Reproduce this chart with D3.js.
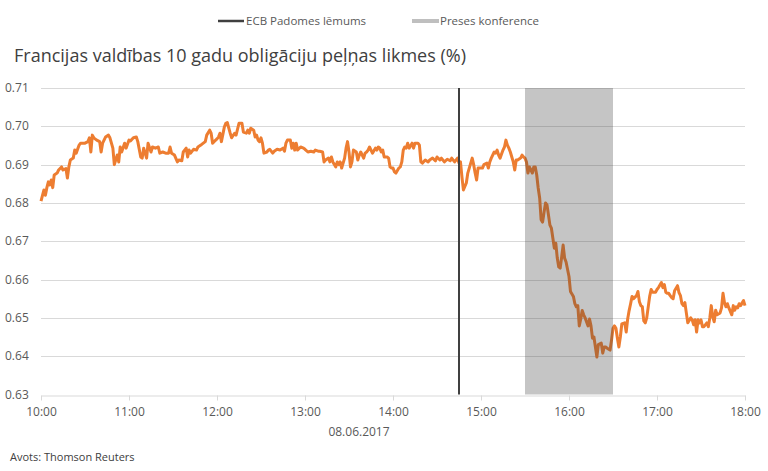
<!DOCTYPE html>
<html>
<head>
<meta charset="utf-8">
<script src="https://cdn.jsdelivr.net/npm/d3@7"></script>
<style>
  body { margin: 0; background: #fff; }
  svg { display: block; font-family: "Open Sans", sans-serif; }
</style>
</head>
<body>
<svg width="768" height="471"></svg>
<script>
// minutes after 10:00 on 08.06.2017
var mins = [0,2,3,4,5,6,7,8,9,11,12,14,15,17,18,19,20,22,23,24,26,27,30,32,33,34,35,36,38,40,41,42,44,46,47,49,50,52,53,54,55,57,58,60,61,63,65,66,68,69,70,72,
  73,75,76,78,80,81,83,85,87,88,89,91,93,94,96,97,99,100,101,102,104,106,107,109,110,112,113,115,116,117,118,120,121,122,123,125,126,127,129,130,132,133,135,137,138,
  140,141,142,143,145,146,147,148,149,150,151,152,154,155,156,158,159,161,163,165,166,167,168,170,171,172,173,174,175,177,179,180,182,184,186,187,189,190,192,193,194,196,197,198,199,201,202,203,204,205,207,208,209,210,211,212,213,
  215,216,217,218,220,221,222,223,224,225,226,228,229,230,231,232,233,234,236,237,238,239,240,241,242,244,245,246,247,248,249,250,251,253,254,255,256,257,258,259,260,262,264,265,267,269,270,272,273,275,277,279,280,282,284,285,
  286,287,288,290,291,292,293,294,295,296,297,298,300,301,302,304,305,306,307,309,310,311,312,313,315,316,317,318,319,320,321,322,323,324,325,327,328,329,330,331,332,333,335,336,337,338,339,340,341,342,343,344,345,347,348,349,350,351,352,353,354,355,356,357,358,
  360,361,363,364,365,366,367,368,369,370,371,373,374,375,376,377,378,379,380,382,383,384,385,386,388,389,390,391,392,393,394,395,396,398,399,400,401,402,403,404,406,407,408,409,410,411,412,413,415,416,417,418,419,420,421,423,424,425,426,
  427,428,429,430,431,432,434,435,436,437,438,439,440,441,443,444,445,446,447,448,449,450,451,452,454,455,456,457,458,459,460,461,463,464,465,466,467,468,469,471,472,473,474,475,476,477,479,480];

var yields = [0.6805,0.6834,0.682,0.684,0.6855,0.6847,0.686,0.684,0.6873,0.6878,0.6886,0.6894,0.6886,0.689,0.6865,0.6894,0.6912,0.6917,0.6938,0.693,0.6951,0.6956,0.6956,0.696,0.697,0.6933,0.6977,0.697,0.6964,0.696,0.6933,0.6956,0.6972,0.6977,0.697,0.6943,0.690,0.6925,0.6907,0.6946,0.6933,0.6956,0.6943,0.6964,0.6962,0.697,0.6972,0.696,0.692,0.6917,0.6943,0.6917,
  0.6956,0.6933,0.6946,0.6943,0.6946,0.693,0.6933,0.693,0.693,0.6946,0.693,0.6925,0.6907,0.6912,0.691,0.6933,0.6943,0.692,0.6938,0.693,0.694,0.6938,0.6946,0.6951,0.6954,0.696,0.6977,0.699,0.6982,0.6956,0.696,0.6967,0.6972,0.6982,0.696,0.6998,0.7008,0.701,0.6982,0.697,0.6982,0.6977,0.7008,0.7008,0.6985,
  0.6982,0.699,0.6982,0.6995,0.699,0.6972,0.6977,0.6964,0.696,0.697,0.6956,0.693,0.6933,0.6938,0.694,0.693,0.6935,0.694,0.6938,0.6943,0.6935,0.6956,0.6964,0.6964,0.6943,0.6956,0.6938,0.6956,0.6938,0.6946,0.6943,0.694,0.6933,0.6935,0.6933,0.6938,0.6935,0.6935,0.6933,0.6907,0.6912,0.6917,0.6907,0.692,0.6907,0.6894,0.6907,0.690,0.6907,0.6891,0.6917,0.6943,0.696,0.6933,0.6894,0.6907,0.6938,
  0.6933,0.6912,0.6925,0.6933,0.6917,0.693,0.6933,0.6938,0.6946,0.6938,0.693,0.6943,0.6938,0.6946,0.6943,0.6933,0.6938,0.692,0.692,0.6917,0.6894,0.6891,0.6891,0.6881,0.6878,0.6891,0.6894,0.6907,0.6938,0.6946,0.6943,0.6956,0.6943,0.6956,0.6943,0.6956,0.6956,0.6956,0.6951,0.6907,0.6904,0.6912,0.6907,0.6912,0.6917,0.691,0.692,0.6912,0.6917,0.6907,0.6914,0.691,0.6917,0.6907,0.6917,0.6904,
  0.6907,0.6868,0.6834,0.6852,0.6878,0.6891,0.6904,0.6917,0.690,0.6878,0.686,0.6891,0.6891,0.6891,0.690,0.6904,0.6891,0.6907,0.6917,0.6933,0.693,0.6938,0.6925,0.6917,0.6938,0.6946,0.6964,0.6951,0.6943,0.6933,0.692,0.6907,0.6886,0.6912,0.6912,0.6917,0.6925,0.692,0.6917,0.6907,0.6878,0.6894,0.6878,0.6894,0.6894,0.6873,0.6839,0.6813,0.6756,0.675,0.6776,0.680,0.6795,0.6742,0.6734,0.6708,0.6682,0.6695,0.6656,0.6633,0.663,0.6659,0.669,0.6656,0.6646,
  0.6608,0.6569,0.6556,0.6537,0.6529,0.6532,0.6479,0.6497,0.6519,0.6508,0.650,0.6479,0.6497,0.6479,0.6447,0.645,0.6424,0.6398,0.643,0.6434,0.6408,0.6424,0.6424,0.6421,0.6416,0.6442,0.6473,0.6479,0.6473,0.6447,0.6424,0.645,0.6484,0.6487,0.6463,0.6497,0.6519,0.6537,0.6556,0.655,0.6558,0.6569,0.6542,0.6532,0.6529,0.6492,0.6487,0.650,0.6556,0.6574,0.6567,0.6567,0.6567,0.6574,0.6579,0.6592,0.6579,0.6587,0.6567,
  0.6564,0.6564,0.6558,0.6553,0.655,0.6571,0.6584,0.6566,0.6558,0.6537,0.6532,0.654,0.6513,0.6487,0.650,0.6495,0.6482,0.6495,0.6463,0.6495,0.6487,0.6495,0.6477,0.6477,0.6487,0.6477,0.650,0.6532,0.6503,0.649,0.652,0.6508,0.6513,0.6526,0.6564,0.654,0.6529,0.6537,0.6526,0.6508,0.6532,0.652,0.6529,0.6526,0.6537,0.6532,0.6545,0.6532];

var yTicks = [0.63, 0.64, 0.65, 0.66, 0.67, 0.68, 0.69, 0.70, 0.71];
var decisionMin = 285;            // ECB Padomes lēmums, 14:45
var pressMin = [330, 390];        // preses konference 15:30 - 16:30
var legendLabels = ["ECB Padomes lēmums", "Preses konference"];
var titleText = "Francijas valdības 10 gadu obligāciju peļņas likmes (%)";

function drawChart() {
  var day0 = new Date(2017, 5, 8, 10, 0);
  function toDate(m) { return new Date(day0.getTime() + m * 60000); }

  var data = mins.map(function(m, i) { return { t: toDate(m), v: yields[i] }; });

  var svg = d3.select("svg");
  var pl = 41, pr = 745, pt = 88, pb = 394.5;

  var x = d3.scaleTime().domain([toDate(0), toDate(480)]).range([pl, pr]);
  var y = d3.scaleLinear().domain([0.63, 0.71]).range([pb, pt]);

  // gridlines
  svg.append("g").selectAll("line")
    .data(yTicks.slice(1))
    .enter().append("line")
    .attr("x1", pl).attr("x2", pr)
    .attr("y1", function(d) { return Math.round(y(d)) + 0.5; })
    .attr("y2", function(d) { return Math.round(y(d)) + 0.5; })
    .attr("stroke", "#d9d9d9").attr("stroke-width", 1);

  // y labels
  svg.append("g").selectAll("text")
    .data(yTicks)
    .enter().append("text")
    .attr("x", 5)
    .attr("y", function(d) { return y(d) + 4; })
    .attr("font-size", "12px")
    .attr("fill", "#595959")
    .text(function(d) { return d.toFixed(2); });

  // x axis
  var xAxis = svg.append("g")
    .attr("transform", "translate(0," + (Math.round(pb) + 0.5) + ")")
    .call(d3.axisBottom(x).ticks(d3.timeHour.every(1)).tickFormat(d3.timeFormat("%H:%M")).tickSize(5).tickSizeOuter(0));
  xAxis.select(".domain").attr("stroke", "#d9d9d9");
  xAxis.selectAll(".tick line").attr("stroke", "#d9d9d9");
  xAxis.selectAll(".tick text")
    .attr("fill", "#595959")
    .attr("font-size", "12px")
    .attr("font-family", "Open Sans, sans-serif")
    .attr("dy", "1.05em");

  // yield line
  var line = d3.line().x(function(d) { return x(d.t); }).y(function(d) { return y(d.v); });
  svg.append("path")
    .datum(data)
    .attr("d", line)
    .attr("fill", "none")
    .attr("stroke", "#ed7d31")
    .attr("stroke-width", 3)
    .attr("stroke-linejoin", "round");

  // press conference band, drawn over the line
  svg.append("rect")
    .attr("x", x(toDate(pressMin[0])))
    .attr("y", pt)
    .attr("width", x(toDate(pressMin[1])) - x(toDate(pressMin[0])))
    .attr("height", pb - pt)
    .attr("fill", "#404040")
    .attr("opacity", 0.3);

  // decision line
  svg.append("line")
    .attr("x1", x(toDate(decisionMin))).attr("x2", x(toDate(decisionMin)))
    .attr("y1", pt).attr("y2", pb)
    .attr("stroke", "#404040").attr("stroke-width", 2);

  // legend
  var leg = svg.append("g");
  leg.append("line").attr("x1", 218).attr("x2", 244).attr("y1", 21).attr("y2", 21)
    .attr("stroke", "#404040").attr("stroke-width", 2.5);
  leg.append("text").attr("x", 246).attr("y", 25).attr("font-size", "11.5px").attr("fill", "#595959")
    .text(legendLabels[0]);
  leg.append("line").attr("x1", 412).attr("x2", 439).attr("y1", 21).attr("y2", 21)
    .attr("stroke", "#bfbfbf").attr("stroke-width", 4);
  leg.append("text").attr("x", 440).attr("y", 25).attr("font-size", "11.5px").attr("fill", "#595959")
    .text(legendLabels[1]);

  // title
  svg.append("text").attr("x", 14).attr("y", 62)
    .attr("font-size", "18px").attr("fill", "#404040")
    .text(titleText);

  svg.append("text").attr("x", 359).attr("y", 436)
    .attr("text-anchor", "middle").attr("font-size", "12px").attr("fill", "#595959")
    .text("08.06.2017");

  svg.append("text").attr("x", 10).attr("y", 461)
    .attr("font-size", "11px").attr("fill", "#404040")
    .text("Avots: Thomson Reuters");
}

drawChart();
</script>
</body>
</html>
